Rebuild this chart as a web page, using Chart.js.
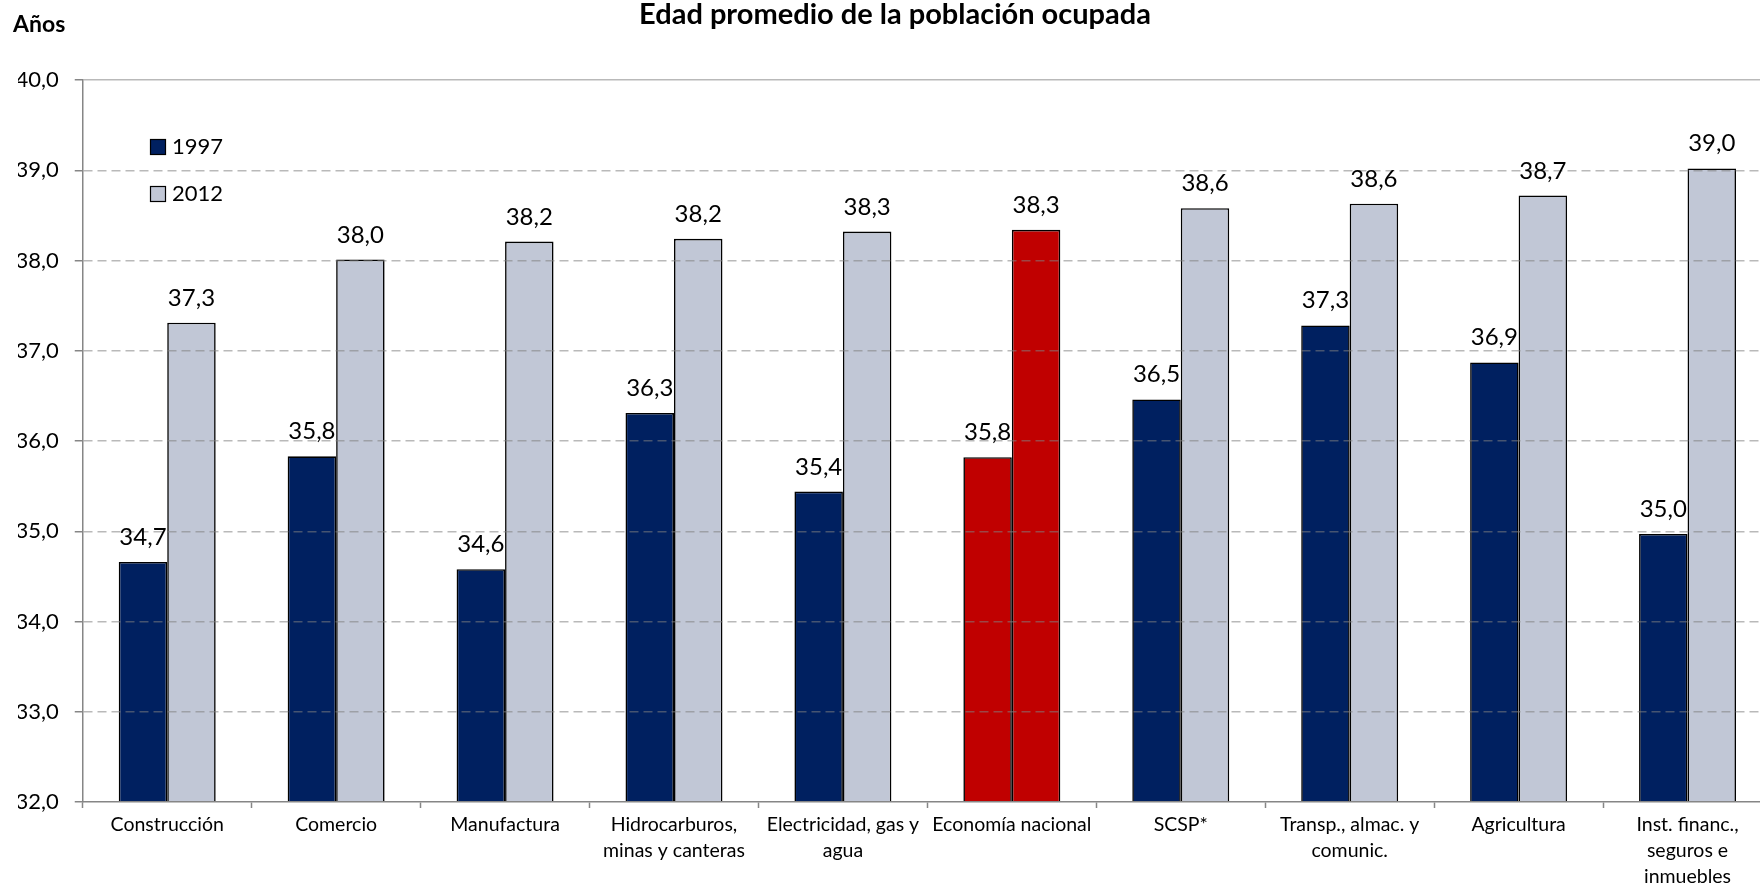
<!DOCTYPE html>
<html><head><meta charset="utf-8">
<script src="https://cdn.jsdelivr.net/npm/chart.js@4.4.1/dist/chart.umd.min.js"></script>
<style>
html,body{margin:0;padding:0;overflow:hidden;background:#fff;}
#wrap{position:relative;width:1772px;height:885px;}
</style></head><body>
<div id="wrap"><canvas id="c"></canvas></div>
<script>
// ---- data ----
const chartTitle = "Edad promedio de la población ocupada";
const unitLabel = "Años";
const categories = [
  ["Construcción"], ["Comercio"], ["Manufactura"], ["Hidrocarburos,", "minas y canteras"],
  ["Electricidad, gas y", "agua"], ["Economía nacional"], ["SCSP*"],
  ["Transp., almac. y", "comunic."], ["Agricultura"], ["Inst. financ.,", "seguros e", "inmuebles"]
];
const seriesNames = ["1997", "2012"];
const values1997 = [34.66, 35.83, 34.58, 36.31, 35.44, 35.82, 36.46, 37.28, 36.87, 34.97];
const values2012 = [37.31, 38.01, 38.21, 38.24, 38.32, 38.34, 38.58, 38.63, 38.72, 39.02];
const yMin = 32, yMax = 40, yStep = 1;
const highlightCategory = "Economía nacional";

// ---- styles ----
const DARK = "#002060", LIGHT = "#C1C7D6", RED = "#C00000";
const AXIS = "#868686";
const fmt = v => v.toFixed(1).replace(".", ",");
const hi = categories.findIndex(c => c.join(" ") === highlightCategory);
const colorsFor = base => categories.map((_, i) => i === hi ? RED : base);

const overlay = {
  id: "overlay",
  afterDraw(chart) {
    const ctx = chart.ctx;
    ctx.save();
    ctx.fillStyle = "#000";
    ctx.font = "24px Lato";
    ctx.textAlign = "center";
    ctx.textBaseline = "alphabetic";
    chart.data.datasets.forEach((ds, di) => {
      chart.getDatasetMeta(di).data.forEach((bar, i) => {
        ctx.fillText(fmt(ds.data[i]), bar.x, bar.y - 17);
      });
    });
    // unit label
    ctx.textAlign = "left";
    ctx.font = "bold 23px Lato";
    ctx.fillText(unitLabel, 13, 32);
    // legend
    const baseColors = [DARK, LIGHT];
    ctx.font = "22px Lato";
    chart.data.datasets.forEach((ds, di) => {
      const y = 139 + di * 47;
      ctx.fillStyle = baseColors[di];
      ctx.fillRect(150, y, 16, 16);
      ctx.lineWidth = 1.2;
      ctx.strokeStyle = "#000";
      ctx.strokeRect(150.5, y + 0.5, 15, 15);
      ctx.fillStyle = "#000";
      ctx.fillText(ds.label, 172, y + 15);
    });
    ctx.restore();
  }
};

new Chart(document.getElementById("c"), {
  type: "bar",
  data: {
    labels: categories,
    datasets: [
      { label: seriesNames[0], data: values1997, backgroundColor: colorsFor(DARK),
        borderColor: "#000", borderWidth: 1.6, categoryPercentage: 0.574, barPercentage: 1 },
      { label: seriesNames[1], data: values2012, backgroundColor: colorsFor(LIGHT),
        borderColor: "#000", borderWidth: 1.6, categoryPercentage: 0.574, barPercentage: 1 }
    ]
  },
  options: {
    responsive: true,
    maintainAspectRatio: false,
    animation: false,
    layout: { padding: { left: 18, top: 0, right: 0, bottom: 0 } },
    plugins: {
      legend: { display: false },
      tooltip: { enabled: false },
      title: {
        display: true, text: chartTitle, color: "#000",
        font: { family: "Lato", size: 29, weight: "bold", lineHeight: 1 },
        padding: { top: 0, bottom: 51 }
      }
    },
    scales: {
      x: {
        grid: { display: true, drawOnChartArea: false, drawTicks: true, tickLength: 6, tickColor: AXIS, tickWidth: 1.5, offset: true, z: 1 },
        border: { display: true, color: AXIS, width: 1.5, z: 2 },
        ticks: { color: "#000", font: { family: "Lato", size: 19.5, lineHeight: 1.32 }, padding: 4, maxRotation: 0, autoSkip: false },
        afterFit: s => { s.height = 83; }
      },
      y: {
        min: yMin, max: yMax,
        grid: {
          z: 1,
          color: c => c.tick && c.tick.value === yMin ? "rgba(0,0,0,0)" : "rgba(128,128,128,0.55)",
          lineWidth: 1.5, drawTicks: true, tickLength: 8, tickColor: AXIS, tickWidth: 1.5
        },
        border: { display: true, color: AXIS, width: 1.5, z: 2,
          dash: c => (c.tick && c.tick.value === yMax) ? [] : [9, 5] },
        ticks: { stepSize: yStep, color: "#000", font: { family: "Lato", size: 22 }, padding: 16,
          callback: v => fmt(v) },
        afterFit: s => { s.width = 64.75; }
      }
    }
  },
  plugins: [overlay]
});
</script>
</body></html>
